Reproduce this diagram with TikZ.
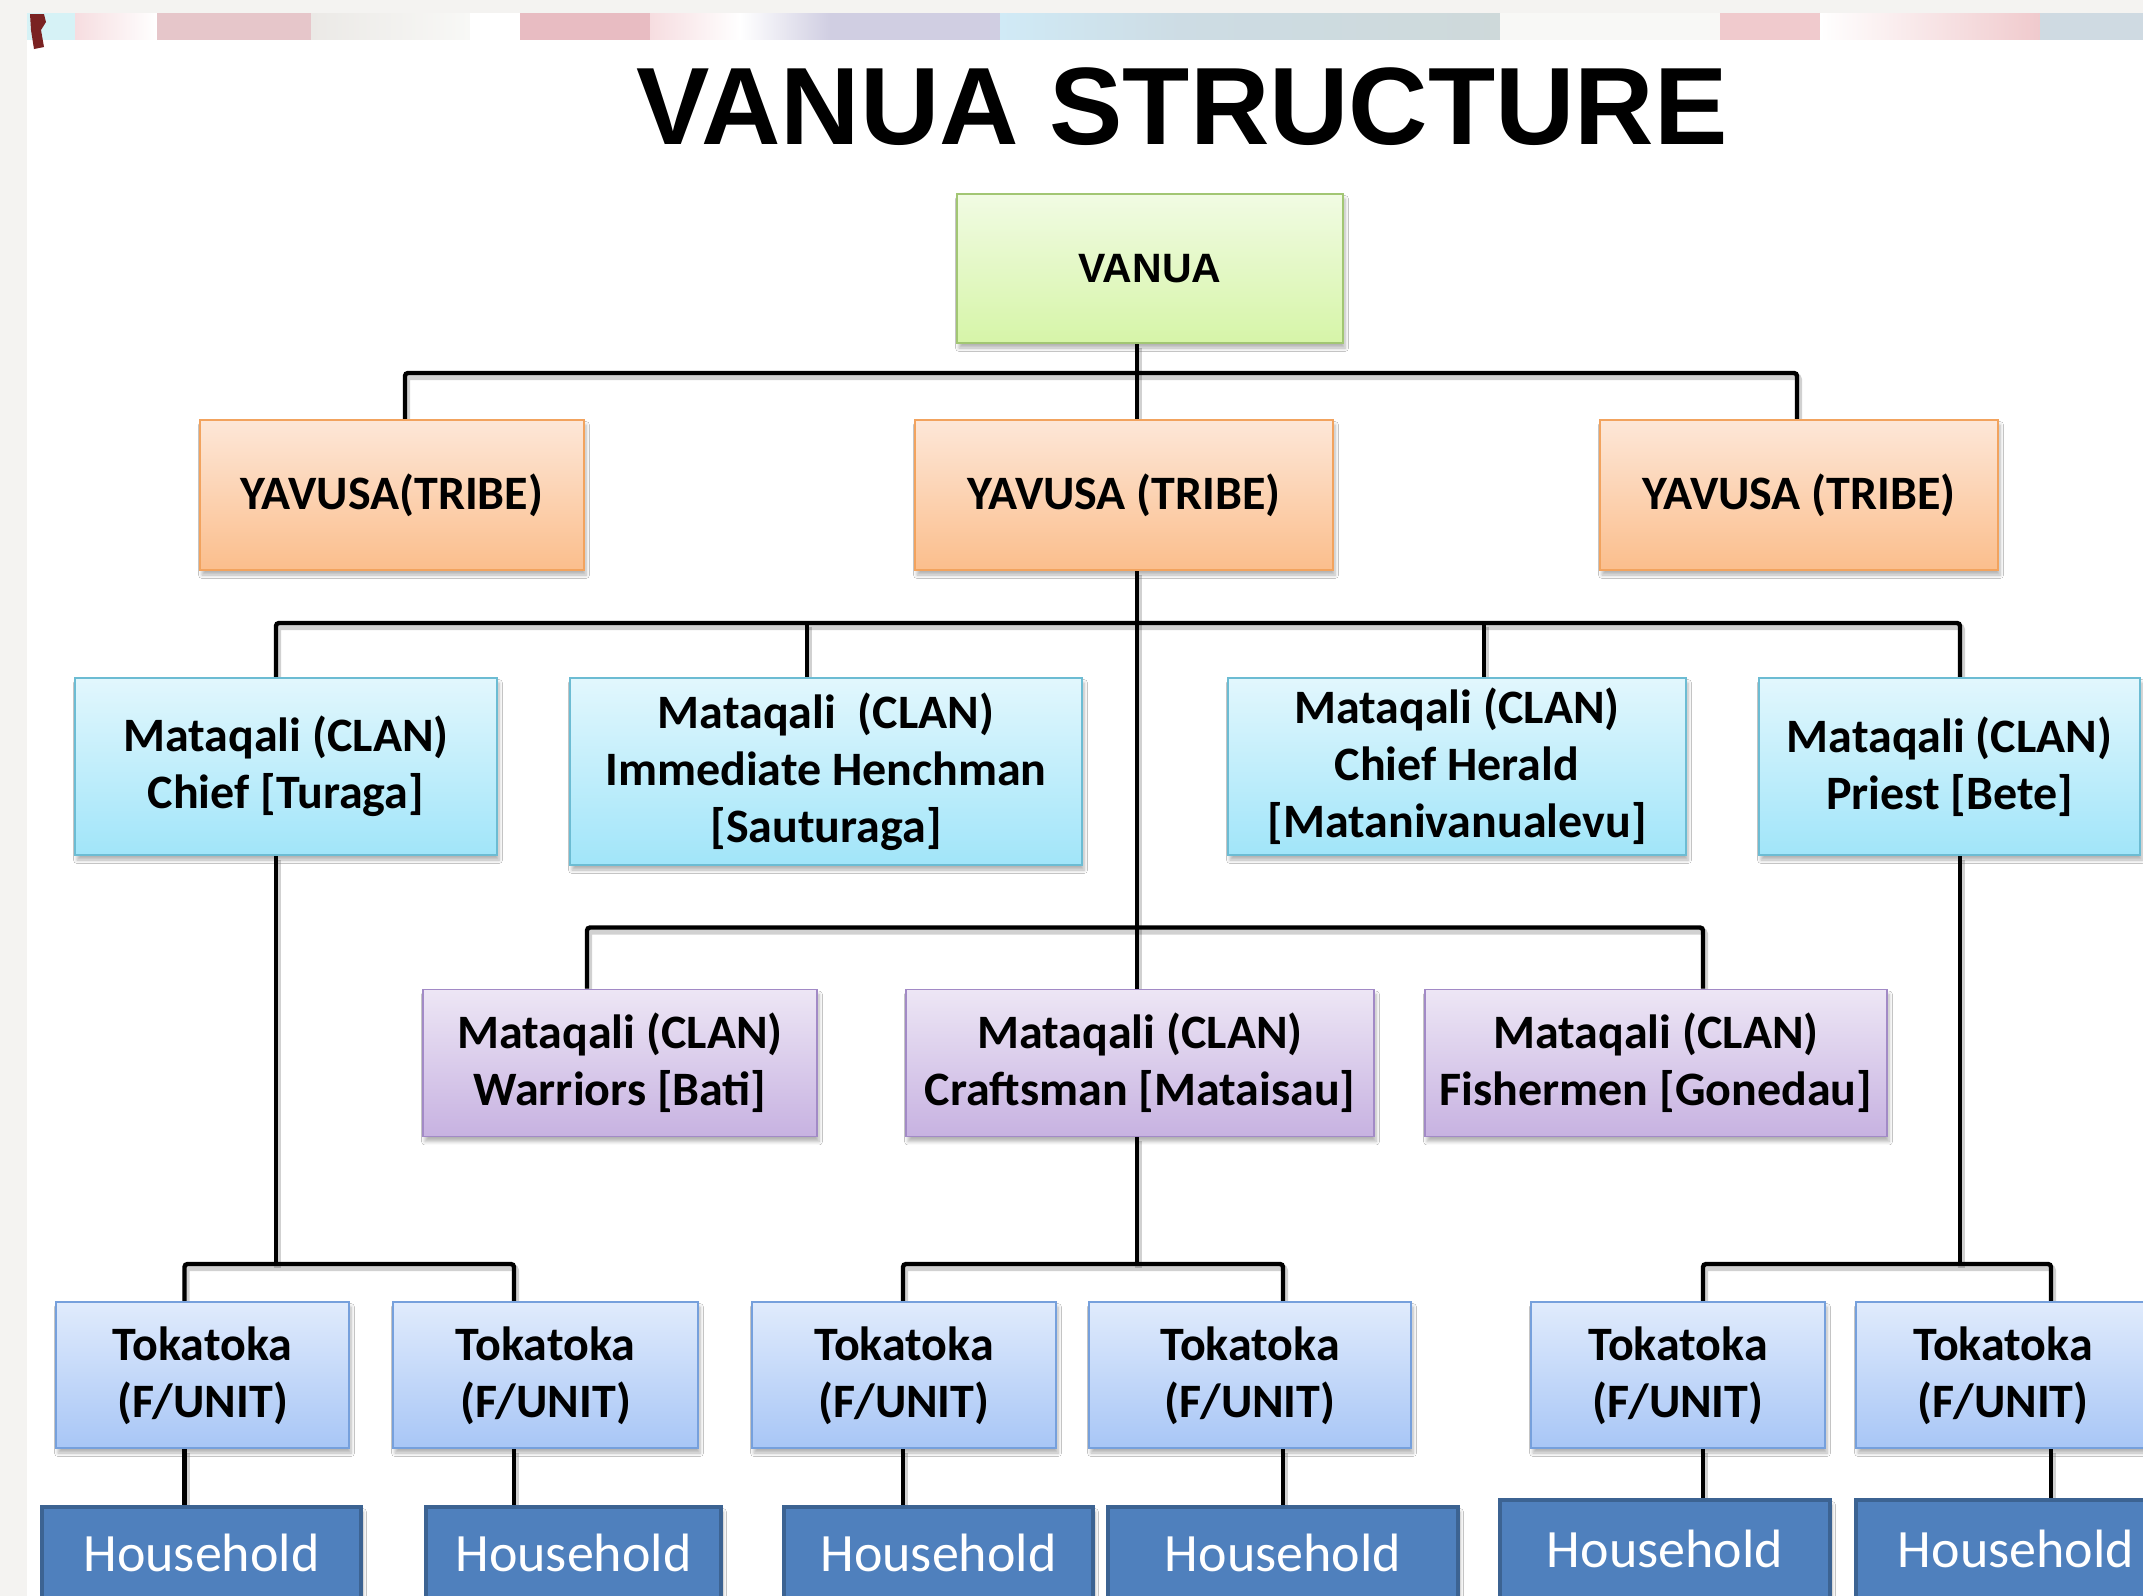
\documentclass[tikz,border=0pt]{standalone}
\usepackage{fontspec}
\newfontfamily\calib{Carlito}
\newfontfamily\arialf{Liberation Sans}
\usetikzlibrary{shadows.blur}
\pgfdeclarelayer{bg}
\pgfsetlayers{bg,main}

\definecolor{bgGray}{HTML}{F4F3F1}
\definecolor{bCyan}{HTML}{D6F2F6}
\definecolor{bPink}{HTML}{E6C6CA}
\definecolor{bPinkL}{HTML}{F6DDE0}
\definecolor{bGray}{HTML}{EBE9E6}
\definecolor{bRose}{HTML}{E8BCC2}
\definecolor{bLav}{HTML}{D0CEE2}
\definecolor{bSky}{HTML}{D0EAF6}
\definecolor{bSteel}{HTML}{CDDCE4}
\definecolor{bSteelG}{HTML}{CED9DA}
\definecolor{bWhite}{HTML}{F8F8F6}
\definecolor{bPinkB}{HTML}{F0CACD}
\definecolor{bBlueB}{HTML}{CFDAE2}
\definecolor{bRed}{HTML}{7A2222}

\definecolor{vTop}{HTML}{F1FBE3}\definecolor{vBot}{HTML}{D6F5A8}\definecolor{vBrd}{HTML}{A2C673}
\definecolor{yTop}{HTML}{FDE7D8}\definecolor{yBot}{HTML}{FBBE8C}\definecolor{yBrd}{HTML}{F2A35E}
\definecolor{cTop}{HTML}{E2F7FD}\definecolor{cBot}{HTML}{A1E5F9}\definecolor{cBrd}{HTML}{6CBCD3}
\definecolor{pTop}{HTML}{EDE6F5}\definecolor{pBot}{HTML}{C7B2E1}\definecolor{pBrd}{HTML}{A28AC6}
\definecolor{tTop}{HTML}{E0EBFC}\definecolor{tBot}{HTML}{A8C6F6}\definecolor{tBrd}{HTML}{76A0DC}
\definecolor{hFill}{HTML}{4F80BD}\definecolor{hBrd}{HTML}{3C6392}

\tikzset{
  wh/.style 2 args={minimum width=#1*0.5pt, minimum height=#2*0.5pt},
  box/.style={draw, line width=0.9pt, inner sep=0pt, align=center,
    font=\calib\bfseries\fontsize{24}{28.5}\selectfont,
    blur shadow={shadow xshift=1pt, shadow yshift=-2.5pt, shadow blur steps=6, shadow opacity=30}},
  vanuabox/.style={box, draw=vBrd, top color=vTop, bottom color=vBot,
    font=\arialf\bfseries\fontsize{20.5}{24}\selectfont},
  tribebox/.style={box, draw=yBrd, top color=yTop, bottom color=yBot},
  clanbox/.style={box, draw=cBrd, top color=cTop, bottom color=cBot},
  craftbox/.style={box, draw=pBrd, top color=pTop, bottom color=pBot},
  unitbox/.style={box, draw=tBrd, top color=tTop, bottom color=tBot, text depth=3pt},
  homebox/.style={box, draw=hBrd, line width=1.6pt, fill=hFill, text=white,
    font=\calib\fontsize{27}{31}\selectfont},
  conn/.style={draw=black, line width=2.2pt, rounded corners=1.5pt,
    preaction={draw=black, opacity=0.18, line width=3.4pt, transform canvas={shift={(0.8pt,-1.8pt)}}}},
}

\begin{document}
\begin{tikzpicture}[x=0.5pt, y=-0.5pt]
\useasboundingbox (0,0) rectangle (2143,1596);

% ---- nodes ----
\node[font=\arialf\bfseries\fontsize{55}{60}\selectfont, inner sep=0pt] (title) at (1182,107) {VANUA STRUCTURE};

\node[vanuabox, wh={386}{149}] (vanua) at (1150,268.5) {VANUA};

\node[tribebox, wh={384}{150}] (y1) at (392,495) {YAVUSA(TRIBE)};
\node[tribebox, wh={418}{150}] (y2) at (1124,495) {YAVUSA (TRIBE)};
\node[tribebox, wh={398}{150}] (y3) at (1799,495) {YAVUSA (TRIBE)};

\node[clanbox, wh={422}{177}] (m1) at (286,766.5) {Mataqali (CLAN)\\Chief [Turaga]};
\node[clanbox, wh={512}{187}] (m2) at (826,771.5) {Mataqali\ \ (CLAN)\\Immediate Henchman\\{}[Sauturaga]};
\node[clanbox, wh={458}{177}] (m3) at (1457,766.5) {Mataqali (CLAN)\\Chief Herald\\{}[Matanivanualevu]};
\node[clanbox, wh={381}{177}] (m4) at (1949.5,766.5) {Mataqali (CLAN)\\Priest [Bete]};

\node[craftbox, wh={394}{147}] (p1) at (620,1063) {Mataqali (CLAN)\\Warriors [Bati]};
\node[craftbox, wh={468}{147}] (p2) at (1140,1063) {Mataqali (CLAN)\\Craftsman [Mataisau]};
\node[craftbox, wh={462}{147}] (p3) at (1656,1063) {Mataqali (CLAN)\\Fishermen [Gonedau]};

\node[unitbox, wh={293}{146}] (t1) at (202.5,1375) {Tokatoka\\(F/UNIT)};
\node[unitbox, wh={305}{146}] (t2) at (545.5,1375) {Tokatoka\\(F/UNIT)};
\node[unitbox, wh={304}{146}] (t3) at (904,1375) {Tokatoka\\(F/UNIT)};
\node[unitbox, wh={322}{146}] (t4) at (1250,1375) {Tokatoka\\(F/UNIT)};
\node[unitbox, wh={294}{146}] (t5) at (1678,1375) {Tokatoka\\(F/UNIT)};
\node[unitbox, wh={294}{146}] (t6) at (2003,1375) {Tokatoka\\(F/UNIT)};

\node[homebox, wh={319}{91}] (h1) at (201.5,1552.5) {Household};
\node[homebox, wh={295}{91}] (h2) at (573.5,1552.5) {Household};
\node[homebox, wh={309}{91}] (h3) at (938.5,1552.5) {Household};
\node[homebox, wh={350}{91}] (h4) at (1283,1552.5) {Household};
\node[homebox, wh={330}{98}] (h5) at (1665,1549) {Household};
\node[homebox, wh={320}{98}] (h6) at (2016,1549) {Household};

% ---- junction coordinates ----
\coordinate (trunk) at (1137,0);
\coordinate (b1L) at (405,373);   \coordinate (b1R) at (1797,373);
\coordinate (b2L) at (276,623);   \coordinate (b2R) at (1960,623);
\coordinate (d2a) at (807,623);   \coordinate (d2b) at (1484,623);
\coordinate (b3L) at (587,927.5); \coordinate (b3R) at (1703,927.5);
\coordinate (b4L) at (184.5,1264);\coordinate (b4R) at (514,1264);
\coordinate (b5L) at (903,1264);  \coordinate (b5R) at (1283,1264);
\coordinate (b6L) at (1703,1264); \coordinate (b6R) at (2051,1264);

\begin{pgfonlayer}{bg}
  \fill[white] (0,0) rectangle (2143,1596);
  \fill[bgGray] (0,0) rectangle (2143,13);
  \fill[bgGray] (0,0) rectangle (27,1596);
  % banner strip
  \foreach \xa/\xb/\ca/\cb in {27/75/bCyan/bCyan, 75/157/bPinkL/white, 157/311/bPink/bPink,
      311/470/bGray/bWhite, 470/520/white/white, 520/650/bRose/bRose, 650/740/bPinkL/white,
      740/830/white/bLav, 830/1000/bLav/bLav, 1000/1180/bSky/bSteel, 1180/1500/bSteel/bSteelG,
      1500/1720/bWhite/bWhite, 1720/1820/bPinkB/bPinkB, 1820/2040/white/bPinkB, 2040/2143/bBlueB/bBlueB}
    {\shade[left color=\ca, right color=\cb] (\xa,13) rectangle (\xb,39);}
  \fill[bRed] (30,14) -- (44,14) -- (46,22) -- (41,30) -- (44,47) -- (34,49) -- (31,30) -- cycle;

  % ---- connectors ----
  \draw[conn] (vanua.south -| trunk) -- (y2.north -| trunk);
  \draw[conn] (y1.north -| b1L) -- (b1L) -- (b1R) -- (y3.north -| b1R);
  \draw[conn] (y2.south -| trunk) -- (p2.north -| trunk);
  \draw[conn] (m1.north -| b2L) -- (b2L) -- (b2R) -- (m4.north -| b2R);
  \draw[conn] (d2a) -- (m2.north -| d2a);
  \draw[conn] (d2b) -- (m3.north -| d2b);
  \draw[conn] (p1.north -| b3L) -- (b3L) -- (b3R) -- (p3.north -| b3R);
  \draw[conn] (m1.south -| b2L) -- (b2L |- b4L);
  \draw[conn] (t1.north -| b4L) -- (b4L) -- (b4R) -- (t2.north -| b4R);
  \draw[conn] (p2.south -| trunk) -- (trunk |- b5L);
  \draw[conn] (t3.north -| b5L) -- (b5L) -- (b5R) -- (t4.north -| b5R);
  \draw[conn] (m4.south -| b2R) -- (b2R |- b6L);
  \draw[conn] (t5.north -| b6L) -- (b6L) -- (b6R) -- (t6.north -| b6R);
  \draw[conn] (t1.south -| b4L) -- (h1.north -| b4L);
  \draw[conn] (t2.south -| b4R) -- (h2.north -| b4R);
  \draw[conn] (t3.south -| b5L) -- (h3.north -| b5L);
  \draw[conn] (t4.south -| b5R) -- (h4.north -| b5R);
  \draw[conn] (t5.south -| b6L) -- (h5.north -| b6L);
  \draw[conn] (t6.south -| b6R) -- (h6.north -| b6R);
\end{pgfonlayer}
\end{tikzpicture}
\end{document}
